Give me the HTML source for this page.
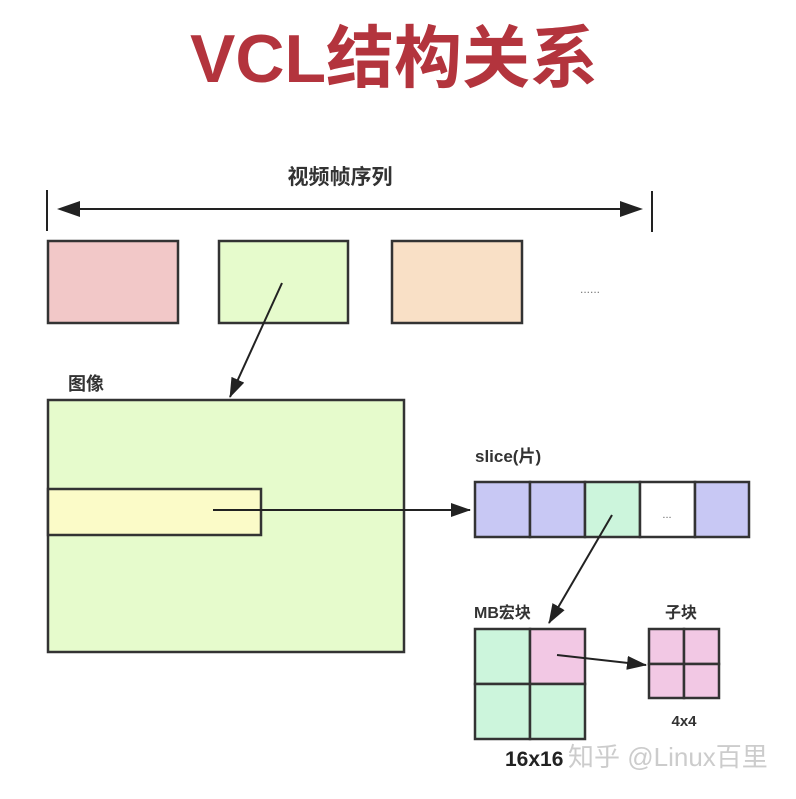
<!DOCTYPE html>
<html><head><meta charset="utf-8"><style>
body{margin:0;background:#fff;width:796px;height:794px;overflow:hidden}
</style></head><body>
<svg width="796" height="794" xmlns="http://www.w3.org/2000/svg" font-family="Liberation Sans, Noto Sans CJK SC, sans-serif">
<defs><marker id="b" markerWidth="20" markerHeight="14" refX="19" refY="7" orient="auto" markerUnits="userSpaceOnUse"><path d="M0,0 L20,7 L0,14z" fill="#222"/></marker></defs>
<text x="394" y="82" text-anchor="middle" font-size="68" font-weight="bold" fill="#b3343d">VCL结构关系</text>
<text x="340" y="184" text-anchor="middle" font-size="21" font-weight="bold" fill="#333">视频帧序列</text>
<line x1="47" y1="190" x2="47" y2="231" stroke="#222" stroke-width="2"/>
<line x1="652" y1="191" x2="652" y2="232" stroke="#222" stroke-width="2"/>
<line x1="75" y1="209" x2="625" y2="209" stroke="#222" stroke-width="2"/>
<path d="M57,209 L80,201 L80,217z M643,209 L620,201 L620,217z" fill="#222"/>
<g stroke="#333" stroke-width="2.5">
<rect x="48" y="241" width="130" height="82" fill="#f2c8c8"/>
<rect x="219" y="241" width="129" height="82" fill="#e6fbcc"/>
<rect x="392" y="241" width="130" height="82" fill="#f9e0c6"/>
</g>
<text x="590" y="293" text-anchor="middle" font-size="12" fill="#777">......</text>
<line x1="282" y1="283" x2="230" y2="397" stroke="#222" stroke-width="2" marker-end="url(#b)"/>
<text x="68" y="390" font-size="18" font-weight="bold" fill="#333">图像</text>
<rect x="48" y="400" width="356" height="252" fill="#e6fbcc" stroke="#333" stroke-width="2.5"/>
<rect x="48" y="489" width="213" height="46" fill="#fbfbc8" stroke="#333" stroke-width="2.5"/>
<line x1="213" y1="510" x2="470" y2="510" stroke="#222" stroke-width="2" marker-end="url(#b)"/>
<text x="475" y="462" font-size="17" font-weight="bold" fill="#333">slice(片)</text>
<g stroke="#333" stroke-width="2.5">
<rect x="475" y="482" width="55" height="55" fill="#c8c8f4"/>
<rect x="530" y="482" width="55" height="55" fill="#c8c8f4"/>
<rect x="585" y="482" width="55" height="55" fill="#ccf5dc"/>
<rect x="640" y="482" width="55" height="55" fill="#fff"/>
<rect x="695" y="482" width="54" height="55" fill="#c8c8f4"/>
</g>
<text x="667" y="518" text-anchor="middle" font-size="11" fill="#666">...</text>
<line x1="612" y1="515" x2="549" y2="623" stroke="#222" stroke-width="2" marker-end="url(#b)"/>
<text x="474" y="618" font-size="16" font-weight="bold" fill="#333">MB宏块</text>
<text x="665" y="618" font-size="16" font-weight="bold" fill="#333">子块</text>
<g stroke="#333" stroke-width="2.5">
<rect x="475" y="629" width="55" height="55" fill="#ccf5dc"/>
<rect x="530" y="629" width="55" height="55" fill="#f2c8e4"/>
<rect x="475" y="684" width="55" height="55" fill="#ccf5dc"/>
<rect x="530" y="684" width="55" height="55" fill="#ccf5dc"/>
<rect x="649" y="629" width="35" height="35" fill="#f2c8e4"/>
<rect x="684" y="629" width="35" height="35" fill="#f2c8e4"/>
<rect x="649" y="664" width="35" height="34" fill="#f2c8e4"/>
<rect x="684" y="664" width="35" height="34" fill="#f2c8e4"/>
</g>
<line x1="557" y1="655" x2="646" y2="665" stroke="#222" stroke-width="2" marker-end="url(#b)"/>
<text x="684" y="726" text-anchor="middle" font-size="15" font-weight="bold" fill="#333">4x4</text>
<text x="505" y="766" font-size="21" font-weight="bold" fill="#222">16x16</text>
<text x="568" y="766" font-size="26" fill="#ccc">知乎 @Linux百里</text>
</svg>
</body></html>
